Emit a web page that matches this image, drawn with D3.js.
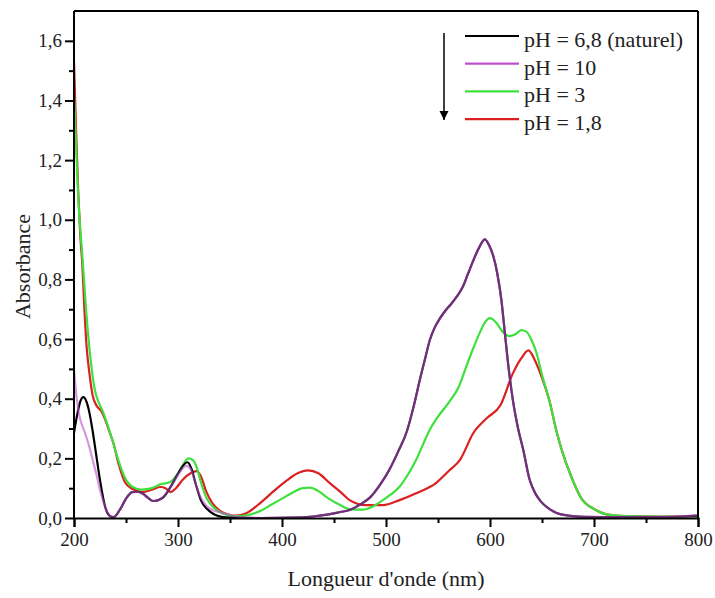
<!DOCTYPE html>
<html>
<head>
<meta charset="utf-8">
<script src="https://cdn.jsdelivr.net/npm/d3@7"></script>
<style>
  body { margin: 0; background: #fff; }
  text { font-family: "Liberation Serif", "DejaVu Serif", serif; fill: #222; }
</style>
</head>
<body>
<script>
// spectra: [wavelength nm, absorbance]
var phNaturel = [[200,0.285],[203,0.345],[206,0.39],[209,0.405],[212,0.39],[215,0.35],[218,0.29],[221,0.22],[225,0.127],[230,0.037],[234,0.008],[238,0.003],[244,0.027],[251,0.07],[256,0.087],[261,0.088],[266,0.082],[271,0.068],[276,0.057],[281,0.06],[286,0.07],[295,0.117],[302,0.16],[309,0.187],[313,0.165],[317,0.115],[322,0.06],[328,0.03],[335,0.012],[342,0.004],[350,0.001],[380,0],[410,0.001],[430,0.005],[445,0.012],[456,0.02],[465,0.027],[475,0.045],[485,0.07],[495,0.115],[504,0.167],[512,0.225],[520,0.29],[527,0.38],[533,0.47],[538,0.54],[542,0.595],[547,0.64],[552,0.67],[557,0.695],[562,0.715],[568,0.742],[574,0.776],[579,0.82],[584,0.864],[590,0.91],[595,0.934],[599,0.915],[603,0.88],[607,0.82],[611,0.73],[614,0.63],[618,0.5],[622,0.395],[627,0.3],[632,0.228],[638,0.13],[644,0.08],[649,0.055],[656,0.033],[664,0.017],[675,0.008],[690,0.004],[720,0.003],[760,0.003],[785,0.005],[800,0.008]];
var ph10 = [[200,0.5],[202,0.42],[204,0.365],[206,0.33],[209,0.3],[212,0.27],[215,0.235],[218,0.194],[222,0.14],[225,0.094],[230,0.037],[234,0.01],[238,0.003],[244,0.027],[251,0.07],[256,0.087],[261,0.088],[266,0.082],[271,0.068],[276,0.057],[281,0.06],[286,0.072],[295,0.115],[302,0.155],[308,0.175],[312,0.165],[316,0.125],[321,0.075],[327,0.042],[334,0.025],[342,0.018],[350,0.01],[360,0.003],[380,0],[410,0.001],[430,0.005],[445,0.012],[456,0.02],[465,0.027],[475,0.045],[485,0.07],[495,0.115],[504,0.167],[512,0.225],[520,0.29],[527,0.38],[533,0.47],[538,0.54],[542,0.595],[547,0.64],[552,0.67],[557,0.695],[562,0.715],[568,0.742],[574,0.776],[579,0.82],[584,0.864],[590,0.91],[595,0.934],[599,0.915],[603,0.88],[607,0.82],[611,0.73],[614,0.63],[618,0.5],[622,0.395],[627,0.3],[632,0.228],[638,0.13],[644,0.08],[649,0.055],[656,0.033],[664,0.017],[675,0.008],[690,0.004],[720,0.003],[760,0.003],[785,0.006],[800,0.01]];
var ph3 = [[200,1.42],[202,1.25],[204,1.08],[206,0.97],[208,0.88],[210,0.78],[212,0.68],[214,0.6],[217,0.5],[220,0.43],[224,0.385],[228,0.355],[232,0.315],[237,0.26],[243,0.19],[249,0.135],[256,0.105],[265,0.095],[275,0.1],[283,0.113],[292,0.12],[300,0.15],[305,0.18],[310,0.2],[314,0.195],[318,0.17],[322,0.12],[327,0.07],[333,0.04],[340,0.02],[350,0.008],[360,0.006],[370,0.012],[380,0.025],[390,0.045],[400,0.065],[410,0.085],[420,0.1],[427,0.102],[435,0.09],[445,0.065],[455,0.045],[465,0.03],[478,0.028],[488,0.04],[497,0.06],[505,0.08],[513,0.105],[521,0.145],[529,0.195],[536,0.25],[542,0.295],[550,0.34],[561,0.39],[570,0.44],[577,0.506],[584,0.57],[590,0.62],[595,0.655],[600,0.67],[606,0.655],[612,0.625],[618,0.61],[624,0.615],[630,0.63],[635,0.625],[640,0.596],[645,0.55],[650,0.48],[657,0.395],[664,0.29],[669,0.228],[678,0.14],[688,0.065],[700,0.03],[712,0.012],[730,0.006],[760,0.005],[800,0.005]];
var ph18 = [[200,1.53],[202,1.3],[204,1.1],[206,0.95],[208,0.85],[210,0.7],[212,0.58],[215,0.48],[218,0.41],[222,0.375],[226,0.36],[230,0.33],[234,0.29],[238,0.25],[243,0.18],[249,0.12],[256,0.098],[266,0.087],[275,0.095],[283,0.104],[288,0.1],[293,0.087],[298,0.1],[305,0.13],[312,0.15],[318,0.157],[322,0.14],[327,0.09],[333,0.05],[340,0.025],[350,0.01],[356,0.008],[365,0.015],[379,0.05],[392,0.09],[405,0.127],[415,0.15],[425,0.16],[435,0.15],[446,0.117],[457,0.085],[465,0.06],[481,0.043],[497,0.043],[513,0.06],[529,0.083],[548,0.117],[561,0.16],[571,0.194],[584,0.285],[597,0.335],[610,0.378],[622,0.485],[630,0.535],[637,0.562],[643,0.53],[650,0.47],[657,0.395],[664,0.29],[669,0.228],[678,0.14],[688,0.065],[700,0.03],[712,0.012],[730,0.006],[760,0.005],[800,0.005]];

var seriesNames = ['pH = 6,8 (naturel)', 'pH = 10', 'pH = 3', 'pH = 1,8'];
var seriesColors = ['#000000', '#c04fd0', '#3ee03e', '#dc2020'];
var seriesData = [phNaturel, ph10, ph3, ph18];

var xTicks = [200,300,400,500,600,700,800];
var yTicks = [0,0.2,0.4,0.6,0.8,1.0,1.2,1.4,1.6];

var W = 715, H = 598;
var mL = 74, mR = 698, mT = 11, mB = 518;

var svg = d3.select('body').append('svg').attr('width', W).attr('height', H);

var x = d3.scaleLinear().domain([200,800]).range([mL,mR]);
var y = d3.scaleLinear().domain([0,1.7]).range([mB,mT]);

var line = d3.line()
  .x(function(d){ return x(d[0]); })
  .y(function(d){ return y(d[1]); })
  .curve(d3.curveMonotoneX);

var defs = svg.append('defs');
defs.append('clipPath').attr('id','clip')
  .append('rect').attr('x',mL).attr('y',mT).attr('width',mR-mL).attr('height',mB-mT);

var plot = svg.append('g').attr('clip-path','url(#clip)');

// draw order: red, green, black, then violet over black
var order = [3,2,0,1];
order.forEach(function(i){
  plot.append('path')
    .datum(seriesData[i])
    .attr('fill','none')
    .attr('stroke',seriesColors[i])
    .attr('stroke-width', 2.2)
    .attr('stroke-opacity', i == 1 ? 0.6 : 1)
    .attr('stroke-linejoin','round')
    .attr('d', line);
});

var fmt = function(d){ return d3.format('.1f')(d).replace('.', ','); };

// frame
svg.append('line').attr('x1',mL).attr('x2',mR).attr('y1',mT).attr('y2',mT).attr('stroke','#000').attr('stroke-width',2);
svg.append('line').attr('x1',mR).attr('x2',mR).attr('y1',mT).attr('y2',mB).attr('stroke','#000').attr('stroke-width',2);

// minor ticks
var yMinor = svg.append('g').attr('transform','translate('+mL+',0)')
  .call(d3.axisLeft(y).tickValues(d3.range(1,17,2).map(function(v){return v/10;})).tickSize(5).tickFormat(''));
var xMinor = svg.append('g').attr('transform','translate(0,'+mB+')')
  .call(d3.axisBottom(x).tickValues([250,350,450,550,650,750]).tickSize(5).tickFormat(''));

var yAxis = svg.append('g').attr('transform','translate('+mL+',0)')
  .call(d3.axisLeft(y).tickValues(yTicks).tickSize(9).tickPadding(3).tickFormat(fmt));
var xAxis = svg.append('g').attr('transform','translate(0,'+mB+')')
  .call(d3.axisBottom(x).tickValues(xTicks).tickSize(9).tickPadding(6).tickFormat(d3.format('d')));

[yMinor,xMinor,yAxis,xAxis].forEach(function(g){
  g.selectAll('.domain').attr('stroke','#000').attr('stroke-width',2);
  g.selectAll('.tick line').attr('stroke','#000').attr('stroke-width',2);
  g.selectAll('.tick text').attr('font-size',19).attr('fill','#222')
    .attr('font-family','"Liberation Serif", serif');
});
yAxis.select('.domain').attr('d','M0,'+mT+'V'+mB);
yMinor.select('.domain').remove();
xMinor.select('.domain').remove();

svg.append('text')
  .attr('transform','translate(30,'+((mT+mB)/2+2)+') rotate(-90)')
  .attr('text-anchor','middle')
  .attr('font-size',22)
  .text('Absorbance');

svg.append('text')
  .attr('x',(mL+mR)/2)
  .attr('y',586)
  .attr('text-anchor','middle')
  .attr('font-size',22)
  .text("Longueur d'onde (nm)");

// legend
var legend = svg.append('g');
seriesNames.forEach(function(name,i){
  var ly = 36 + i*27.7;
  legend.append('line')
    .attr('x1',465).attr('x2',519).attr('y1',ly).attr('y2',ly)
    .attr('stroke',seriesColors[i]).attr('stroke-width',2.2);
  legend.append('text')
    .attr('x',524).attr('y',ly+11)
    .attr('font-size',22)
    .text(name);
});
defs.append('marker')
  .attr('id','arrow').attr('viewBox','0 0 10 10').attr('refX',10).attr('refY',5)
  .attr('markerWidth',6).attr('markerHeight',8).attr('orient','auto')
  .append('path').attr('d','M0,0L10,5L0,10Z').attr('fill','#000');
svg.append('line')
  .attr('x1',444).attr('x2',444).attr('y1',33).attr('y2',120)
  .attr('stroke','#000').attr('stroke-width',1.5)
  .attr('marker-end','url(#arrow)');
</script>
</body>
</html>
